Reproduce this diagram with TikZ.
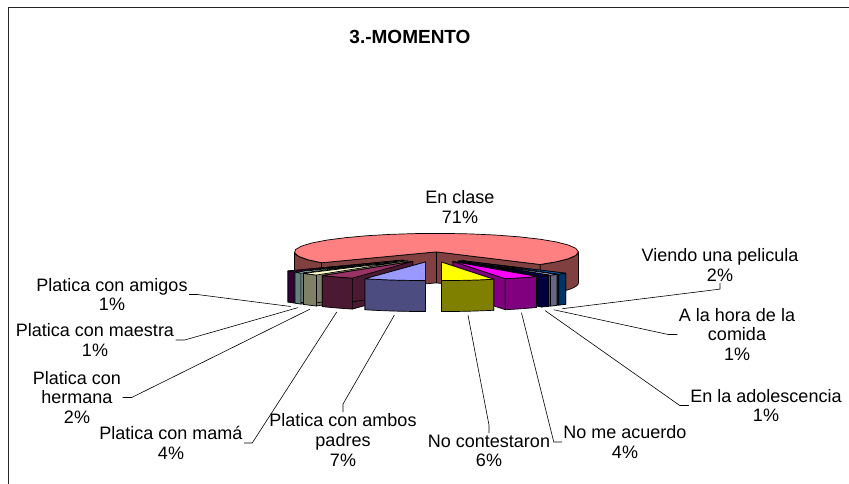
\documentclass[tikz,border=0pt]{standalone}
\usepackage{fontspec}
\setmainfont{Liberation Sans}

\definecolor{enclaseT}{HTML}{FF8080}\definecolor{enclaseS}{HTML}{804040}
\definecolor{viendoT}{HTML}{0066CC}\definecolor{viendoS}{HTML}{003366}
\definecolor{horaT}{HTML}{CCCCFF}\definecolor{horaS}{HTML}{666680}
\definecolor{adolT}{HTML}{000080}\definecolor{adolS}{HTML}{000040}
\definecolor{acuerdoT}{HTML}{FF00FF}\definecolor{acuerdoS}{HTML}{800080}
\definecolor{contestT}{HTML}{FFFF00}\definecolor{contestS}{HTML}{808000}
\definecolor{ambosT}{HTML}{9999FF}\definecolor{ambosS}{HTML}{4C4C80}
\definecolor{mamaT}{HTML}{993366}\definecolor{mamaS}{HTML}{4C1933}
\definecolor{hermanaT}{HTML}{FFFFCC}\definecolor{hermanaS}{HTML}{808066}
\definecolor{maestraT}{HTML}{CCFFFF}\definecolor{maestraS}{HTML}{668080}
\definecolor{amigosT}{HTML}{660066}\definecolor{amigosS}{HTML}{330033}

\newcommand{\pieCx}{434}
\newcommand{\pieCy}{257}
\newcommand{\pieA}{142}
\newcommand{\pieB}{18.5}
\newcommand{\pieH}{31}
\newcommand{\pieD}{39.5}

\tikzset{
  pie edge/.style={draw=black, line width=0.7pt, line join=round},
  leader/.style={draw=black, line width=0.6pt},
  lbl/.style={align=center, inner sep=1.5pt, font=\fontsize{18}{19.7}\selectfont},
}

\newcommand{\pieslice}[6]{%
  \pgfmathsetmacro{\slMid}{(#1+#2)/2}
  \pgfmathsetmacro{\slX}{\pieCx+\pieD*cos(\slMid)}
  \pgfmathsetmacro{\slY}{\pieCy+\pieD*\pieB/\pieA*sin(\slMid)}
  \filldraw[pie edge, fill=#5] (\slX,\slY) -- ({\slX+\pieA*cos(#1)},{\slY+\pieB*sin(#1)})
    -- ++(0,\pieH) -- ({\slX},{\slY+\pieH}) -- cycle;
  \filldraw[pie edge, fill=#5] (\slX,\slY) -- ({\slX+\pieA*cos(#2)},{\slY+\pieB*sin(#2)})
    -- ++(0,\pieH) -- ({\slX},{\slY+\pieH}) -- cycle;
  \foreach \ra/\rb in {#3}
    \filldraw[pie edge, fill=#5]
      plot[domain=\ra:\rb, samples=25] ({\slX+\pieA*cos(\x)},{\slY+\pieB*sin(\x)})
      -- plot[domain=\rb:\ra, samples=25] ({\slX+\pieA*cos(\x)},{\slY+\pieB*sin(\x)+\pieH}) -- cycle;
  \filldraw[pie edge, fill=#4] (\slX,\slY)
    -- plot[domain=#1:#2, samples=25] ({\slX+\pieA*cos(\x)},{\slY+\pieB*sin(\x)}) -- cycle;
  \coordinate (#6) at ({\slX+\pieA*cos(\slMid)},{\slY+\pieB*sin(\slMid)+\pieH+4});
}

\begin{document}
\begin{tikzpicture}[x=1pt, y=-1pt]
  \useasboundingbox (0,0) rectangle (849,484);
  \draw[line width=1.5pt, black!85] (8.5,484) -- (8.5,7.5) -- (849,7.5);

  \node[font=\bfseries\fontsize{19}{22}\selectfont] (title) at (410,37) {3.-MOMENTO};

  \pieslice{144}{403}{144/180,360/403}{enclaseT}{enclaseS}{eEnclase}
  \pieslice{43}{47}{43/47}{viendoT}{viendoS}{eViendo}
  \pieslice{47}{50.4}{47/50.4}{horaT}{horaS}{eHora}
  \pieslice{50.4}{54}{50.4/54}{adolT}{adolS}{eAdol}
  \pieslice{54}{68.4}{54/68.4}{acuerdoT}{acuerdoS}{eAcuerdo}
  \pieslice{68.4}{90}{68.4/90}{contestT}{contestS}{eContest}
  \pieslice{140.4}{144}{140.4/144}{amigosT}{amigosS}{eAmigos}
  \pieslice{136.8}{140.4}{136.8/140.4}{maestraT}{maestraS}{eMaestra}
  \pieslice{129.6}{136.8}{129.6/136.8}{hermanaT}{hermanaS}{eHermana}
  \pieslice{115.2}{129.6}{115.2/129.6}{mamaT}{mamaS}{eMama}
  \pieslice{90}{115.2}{90/115.2}{ambosT}{ambosS}{eAmbos}

  \node[lbl] (lEnclase) at (460,207) {En clase\\71\%};
  \node[lbl] (lViendo) at (720,265) {Viendo una pelicula\\2\%};
  \node[lbl] (lHora) at (737,334.5) {A la hora de la\\comida\\1\%};
  \node[lbl] (lAdol) at (766,405.5) {En la adolescencia\\1\%};
  \node[lbl] (lAcuerdo) at (625,442) {No me acuerdo\\4\%};
  \node[lbl] (lContest) at (489,451) {No contestaron\\6\%};
  \node[lbl] (lAmbos) at (343,440) {Platica con ambos\\padres\\7\%};
  \node[lbl] (lMama) at (171,443) {Platica con mamá\\4\%};
  \node[lbl] (lHermana) at (77,397.5) {Platica con\\hermana\\2\%};
  \node[lbl] (lMaestra) at (95,340) {Platica con maestra\\1\%};
  \node[lbl] (lAmigos) at (112,294.5) {Platica con amigos\\1\%};

  \draw[leader] (lViendo.south) -- ++(0,6) -- (eViendo);
  \draw[leader] (lHora.west) -- ++(-9,0) -- (eHora);
  \draw[leader] (lAdol.west) -- ++(-9,0) -- (eAdol);
  \draw[leader] (lAcuerdo.west) -- ++(-8,0) -- (eAcuerdo);
  \draw[leader] (lContest.north) -- ++(0,-8) -- (eContest);
  \draw[leader] (lAmbos.north) -- ++(0,-8) -- (eAmbos);
  \draw[leader] (lMama.east) -- ++(8,0) -- (eMama);
  \draw[leader] (lHermana.east) -- ++(9,0) -- (eHermana);
  \draw[leader] (lMaestra.east) -- ++(9,0) -- (eMaestra);
  \draw[leader] (lAmigos.east) -- ++(8,0) -- (eAmigos);
\end{tikzpicture}
\end{document}
